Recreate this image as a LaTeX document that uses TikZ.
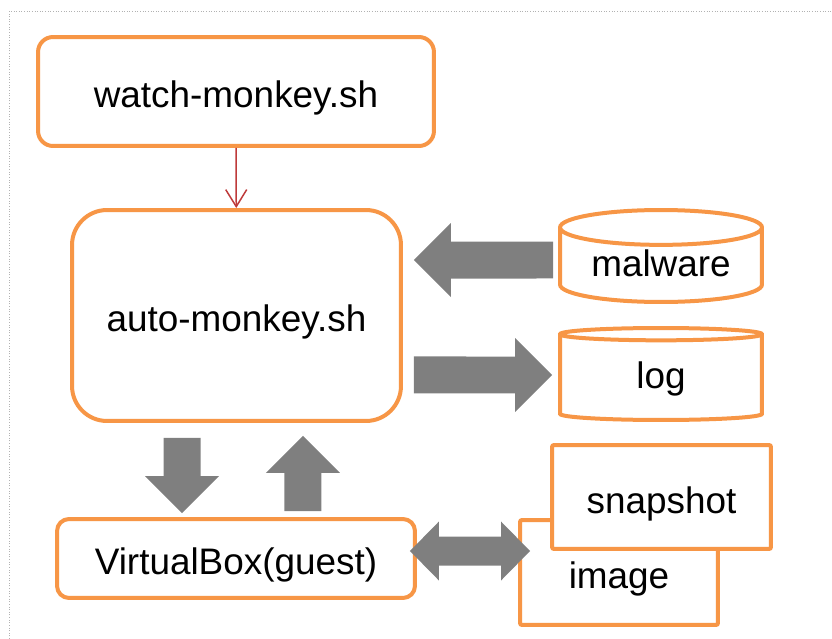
\documentclass[tikz,border=0pt]{standalone}
\usepackage{fontspec}
\setmainfont{Liberation Sans}
\usetikzlibrary{positioning,arrows.meta,shapes.geometric}
\definecolor{ink}{HTML}{000000}
\definecolor{sOrange}{HTML}{F79646}
\definecolor{sGray}{HTML}{7F7F7F}
\definecolor{sRed}{HTML}{BE3A3A}
\tikzset{
  txt/.style={font=\fontsize{21}{25}\selectfont, text=ink, text height=21pt, text depth=2.5pt},
}
\begin{document}
\begin{tikzpicture}[x=0.02cm, y=-0.02cm,
  proc/.style={rectangle, draw=sOrange, line width=0.08cm, fill=white, txt},
  store/.style={cylinder, shape border rotate=90, aspect=0.25, draw=sOrange, line width=0.08cm, fill=white, minimum width=4.04cm, minimum height=1.84cm, inner sep=0pt, anchor=shape center, txt, text height=15pt, text depth=3pt},
  call/.style={-{Straight Barb[length=0.34cm, width=0.42cm]}, line width=0.03cm, sRed},
  blk/.style={sGray, line width=0.74cm, -{Triangle[length=0.74cm, width=1.48cm, line width=0pt]}},
  swap/.style={sGray, line width=0.58cm, {Triangle[length=0.58cm, width=1.18cm, line width=0pt]}-{Triangle[length=0.58cm, width=1.18cm, line width=0pt]}},
  frame/.style={densely dotted, gray!60, line width=0.5pt}]
\useasboundingbox (0,0) rectangle (832,639);
\draw[frame] (9,639) -- (9,11) -- (832,11);
\node[proc, rounded corners=0.3cm, minimum width=7.92cm, minimum height=2.18cm] (watch) at (236,91.5) {watch-monkey.sh};
\node[proc, rounded corners=0.7cm, minimum width=6.58cm, minimum height=4.22cm] (auto) at (236.5,315.5) {auto-monkey.sh};
\node[store] (malware) at (661,256) {malware};
\node[store] (log) at (661,374) {log};
\node[proc, rounded corners=0.24cm, minimum width=7.16cm, minimum height=1.58cm] (vbox) at (236,558.5) {VirtualBox(guest)};
\node[proc, rounded corners=0.04cm, minimum width=3.96cm, minimum height=2.1cm] (image) at (619,572.5) {image};
\node[proc, rounded corners=0.04cm, minimum width=4.38cm, minimum height=2.08cm] (snap) at (661.5,497) {snapshot};
\draw[call] (watch) -- (auto);
\draw[blk] ([xshift=-2.16cm,yshift=-0.08cm]malware.shape center) -- ([xshift=0.22cm,yshift=1.11cm]auto.east);
\draw[blk] ([xshift=0.22cm,yshift=-1.19cm]auto.east) -- ([xshift=-2.18cm,yshift=-0.02cm]log.shape center);
\draw[blk] ([xshift=-1.09cm,yshift=-0.3cm]auto.south) -- ([xshift=-1.08cm,yshift=0.08cm]vbox.north);
\draw[blk] ([xshift=1.34cm,yshift=0.12cm]vbox.north) -- ([xshift=1.33cm,yshift=-0.26cm]auto.south);
\draw[swap] ([xshift=-0.14cm,yshift=0.15cm]vbox.east) -- ([xshift=0.24cm,yshift=0.43cm]image.west);
\end{tikzpicture}
\end{document}
